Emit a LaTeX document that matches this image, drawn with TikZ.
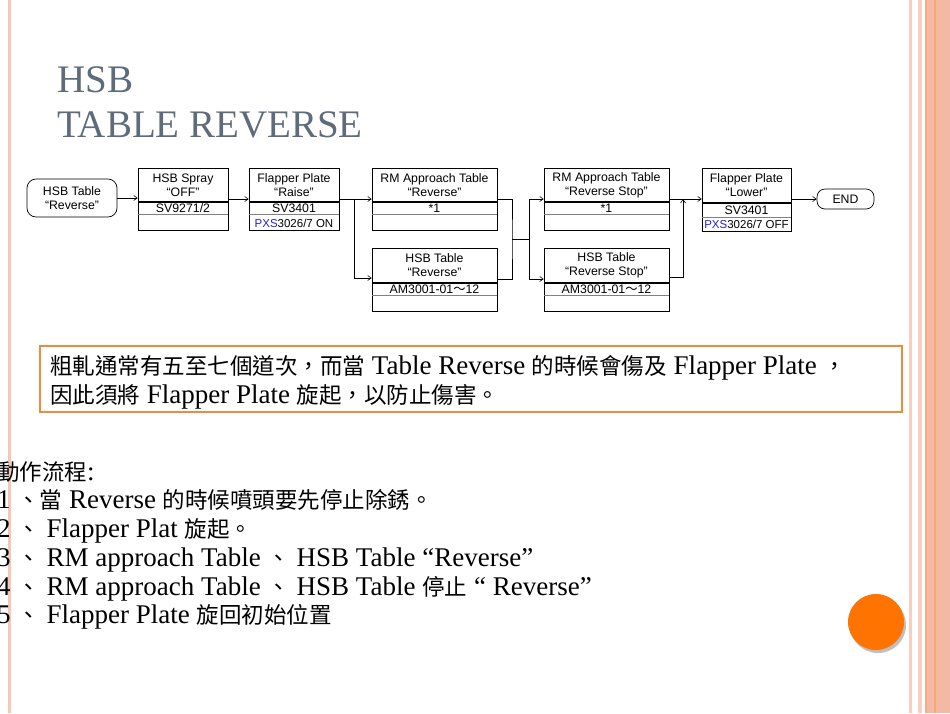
\documentclass[tikz,border=0pt]{standalone}
\usepackage{fontspec}
\setmainfont{Liberation Serif}[Scale=1.2]
\newfontfamily\titlef{Liberation Serif}
\newfontfamily\arial{Liberation Sans}
\newfontfamily\cjk{Noto Sans CJK TC}
\usetikzlibrary{arrows.meta}
\definecolor{ttl}{HTML}{5E6B7B}
\definecolor{orng}{HTML}{F08A3C}
\definecolor{salm}{HTML}{F4B9A4}
\definecolor{pxs}{HTML}{2020E0}
\tikzset{
 conn/.style={draw, line width=0.6pt, -{Straight Barb[length=3.5pt,width=5pt]}},
 plain/.style={draw, line width=0.6pt},
 btxt/.style={font=\arial\fontsize{12.3}{14}\selectfont, inner sep=0pt, align=center},
 stxt/.style={font=\arial\fontsize{11.5}{14}\selectfont, inner sep=0pt},
 pill/.style={draw, rounded corners=9pt, line width=0.7pt, btxt},
 body/.style={anchor=base west, inner sep=0pt, font=\fontsize{22.5}{24}\selectfont}
}
\newcommand\tbox[9]{%
 \node[draw, line width=0.6pt, minimum width={(#4-#2)*1pt}, minimum height={(#5-#3)*1pt}, inner sep=0pt] (#1) at ({(#2+#4)/2},{(#3+#5)/2}) {};
 \draw[line width=1.1pt] (#2,#6) -- (#4,#6);
 \draw[line width=0.6pt, gray] (#2,#7) -- (#4,#7);
 \node[btxt] at ({(#2+#4)/2},{(#3+#6)/2}) {#8};
 \node[btxt] at ({(#2+#4)/2},{(#6+#7)/2}) {#9};
}
\begin{document}
\begin{tikzpicture}[x=1pt,y=-1pt]
\useasboundingbox (0,0) rectangle (950,713);
\fill[white] (0,0) rectangle (950,713);
\fill[salm!80] (8,0) rectangle (11,713);
\fill[salm!70] (909,0) rectangle (912,713);
\fill[salm!70] (918,0) rectangle (922,713);
\fill[salm] (925,0) rectangle (950,713);
\fill[salm!80!orange] (925,0) rectangle (927,713);
\fill[salm!70!orange] (934,0) rectangle (936,713);
\node[anchor=base west, inner sep=0pt, text=ttl, font=\titlef\fontsize{39}{40}\selectfont] (t1) at (57,92) {HSB};
\node[anchor=base west, inner sep=0pt, text=ttl, font=\titlef\fontsize{39}{40}\selectfont] (t2) at (57,137) {TABLE REVERSE};
\node[pill, minimum width=90pt, minimum height=38pt] (start) at (72,198) {HSB Table\\“Reverse”};
\tbox{spray}{138}{168}{228}{230}{202}{214}{HSB Spray\\“OFF”}{SV9271/2}
\tbox{raise}{249}{168}{339}{230}{202}{214}{Flapper Plate\\“Raise”}{SV3401}
\node[stxt] at (294,223) {\textcolor{pxs}{PXS}3026/7 ON};
\tbox{rmrev}{372}{168}{497}{230}{202}{214}{RM Approach Table\\“Reverse”}{*1}
\tbox{hsbrev}{372}{248}{497}{311}{283}{295}{HSB Table\\“Reverse”}{AM3001-01{\cjk ～}12}
\tbox{rmstop}{544}{168}{669}{230}{202}{214}{RM Approach Table\\“Reverse Stop”}{*1}
\tbox{hsbstop}{544}{248}{669}{311}{283}{295}{HSB Table\\“Reverse Stop”}{AM3001-01{\cjk ～}12}
\tbox{lower}{702}{168}{791}{231}{203}{217}{Flapper Plate\\“Lower”}{SV3401}
\node[stxt] at (746.5,224.5) {\textcolor{pxs}{PXS}3026/7 OFF};
\node[pill, minimum width=57pt, minimum height=20pt, rounded corners=8pt] (end) at (845.5,199) {END};
\coordinate (b1) at (354,199);
\coordinate (m1) at (512,239);
\coordinate (m2) at (529,239);
\coordinate (j1) at (683,199);
\draw[conn] (start.east) -- (start.east -| spray.west);
\draw[conn] (spray.east |- 0,199) -- (raise.west |- 0,199);
\draw[conn] (raise.east |- 0,199) -- (rmrev.west |- 0,199);
\draw[conn] (b1) |- (hsbrev.west |- 0,278);
\draw[plain] (rmrev.east |- 0,199) -| (m1) |- (hsbrev.east |- 0,279);
\draw[plain] (m1) -- (m2);
\draw[conn] (m2) |- (rmstop.west |- 0,199);
\draw[conn] (m2) |- (hsbstop.west |- 0,279);
\draw[conn] (rmstop.east |- 0,199) -- (lower.west |- 0,199);
\draw[conn] (hsbstop.east |- 0,277) -| (j1);
\draw[conn] (lower.east |- 0,199) -- (end.west);
\node[draw=orng, line width=1.5pt, minimum width=862pt, minimum height=66pt, inner sep=0pt] (note) at (471,379) {};
\node[body] (n1) at (50,374) {{\cjk 粗軋通常有五至七個道次，而當} Table Reverse {\cjk 的時候會傷及} Flapper Plate {\cjk ，}};
\node[body] (n2) at (50,403) {{\cjk 因此須將} Flapper Plate {\cjk 旋起，以防止傷害。}};
\node[body] (s0) at (-3,480) {{\cjk 動作流程}:};
\node[body] (s1) at (-3,508) {1 {\cjk 、當} Reverse {\cjk 的時候噴頭要先停止除銹。}};
\node[body] (s2) at (-3,537) {2 {\cjk 、} Flapper Plat {\cjk 旋起。}};
\node[body] (s3) at (-3,566) {3 {\cjk 、} RM approach Table {\cjk 、} HSB Table “Reverse”};
\node[body] (s4) at (-3,595) {4 {\cjk 、} RM approach Table {\cjk 、} HSB Table {\cjk 停止} “ Reverse”};
\node[body] (s5) at (-3,623) {5 {\cjk 、} Flapper Plate {\cjk 旋回初始位置}};
\fill[black!25] (878,625) circle (28);
\fill[orange!90!red] (876,622) circle (28);
\end{tikzpicture}
\end{document}
